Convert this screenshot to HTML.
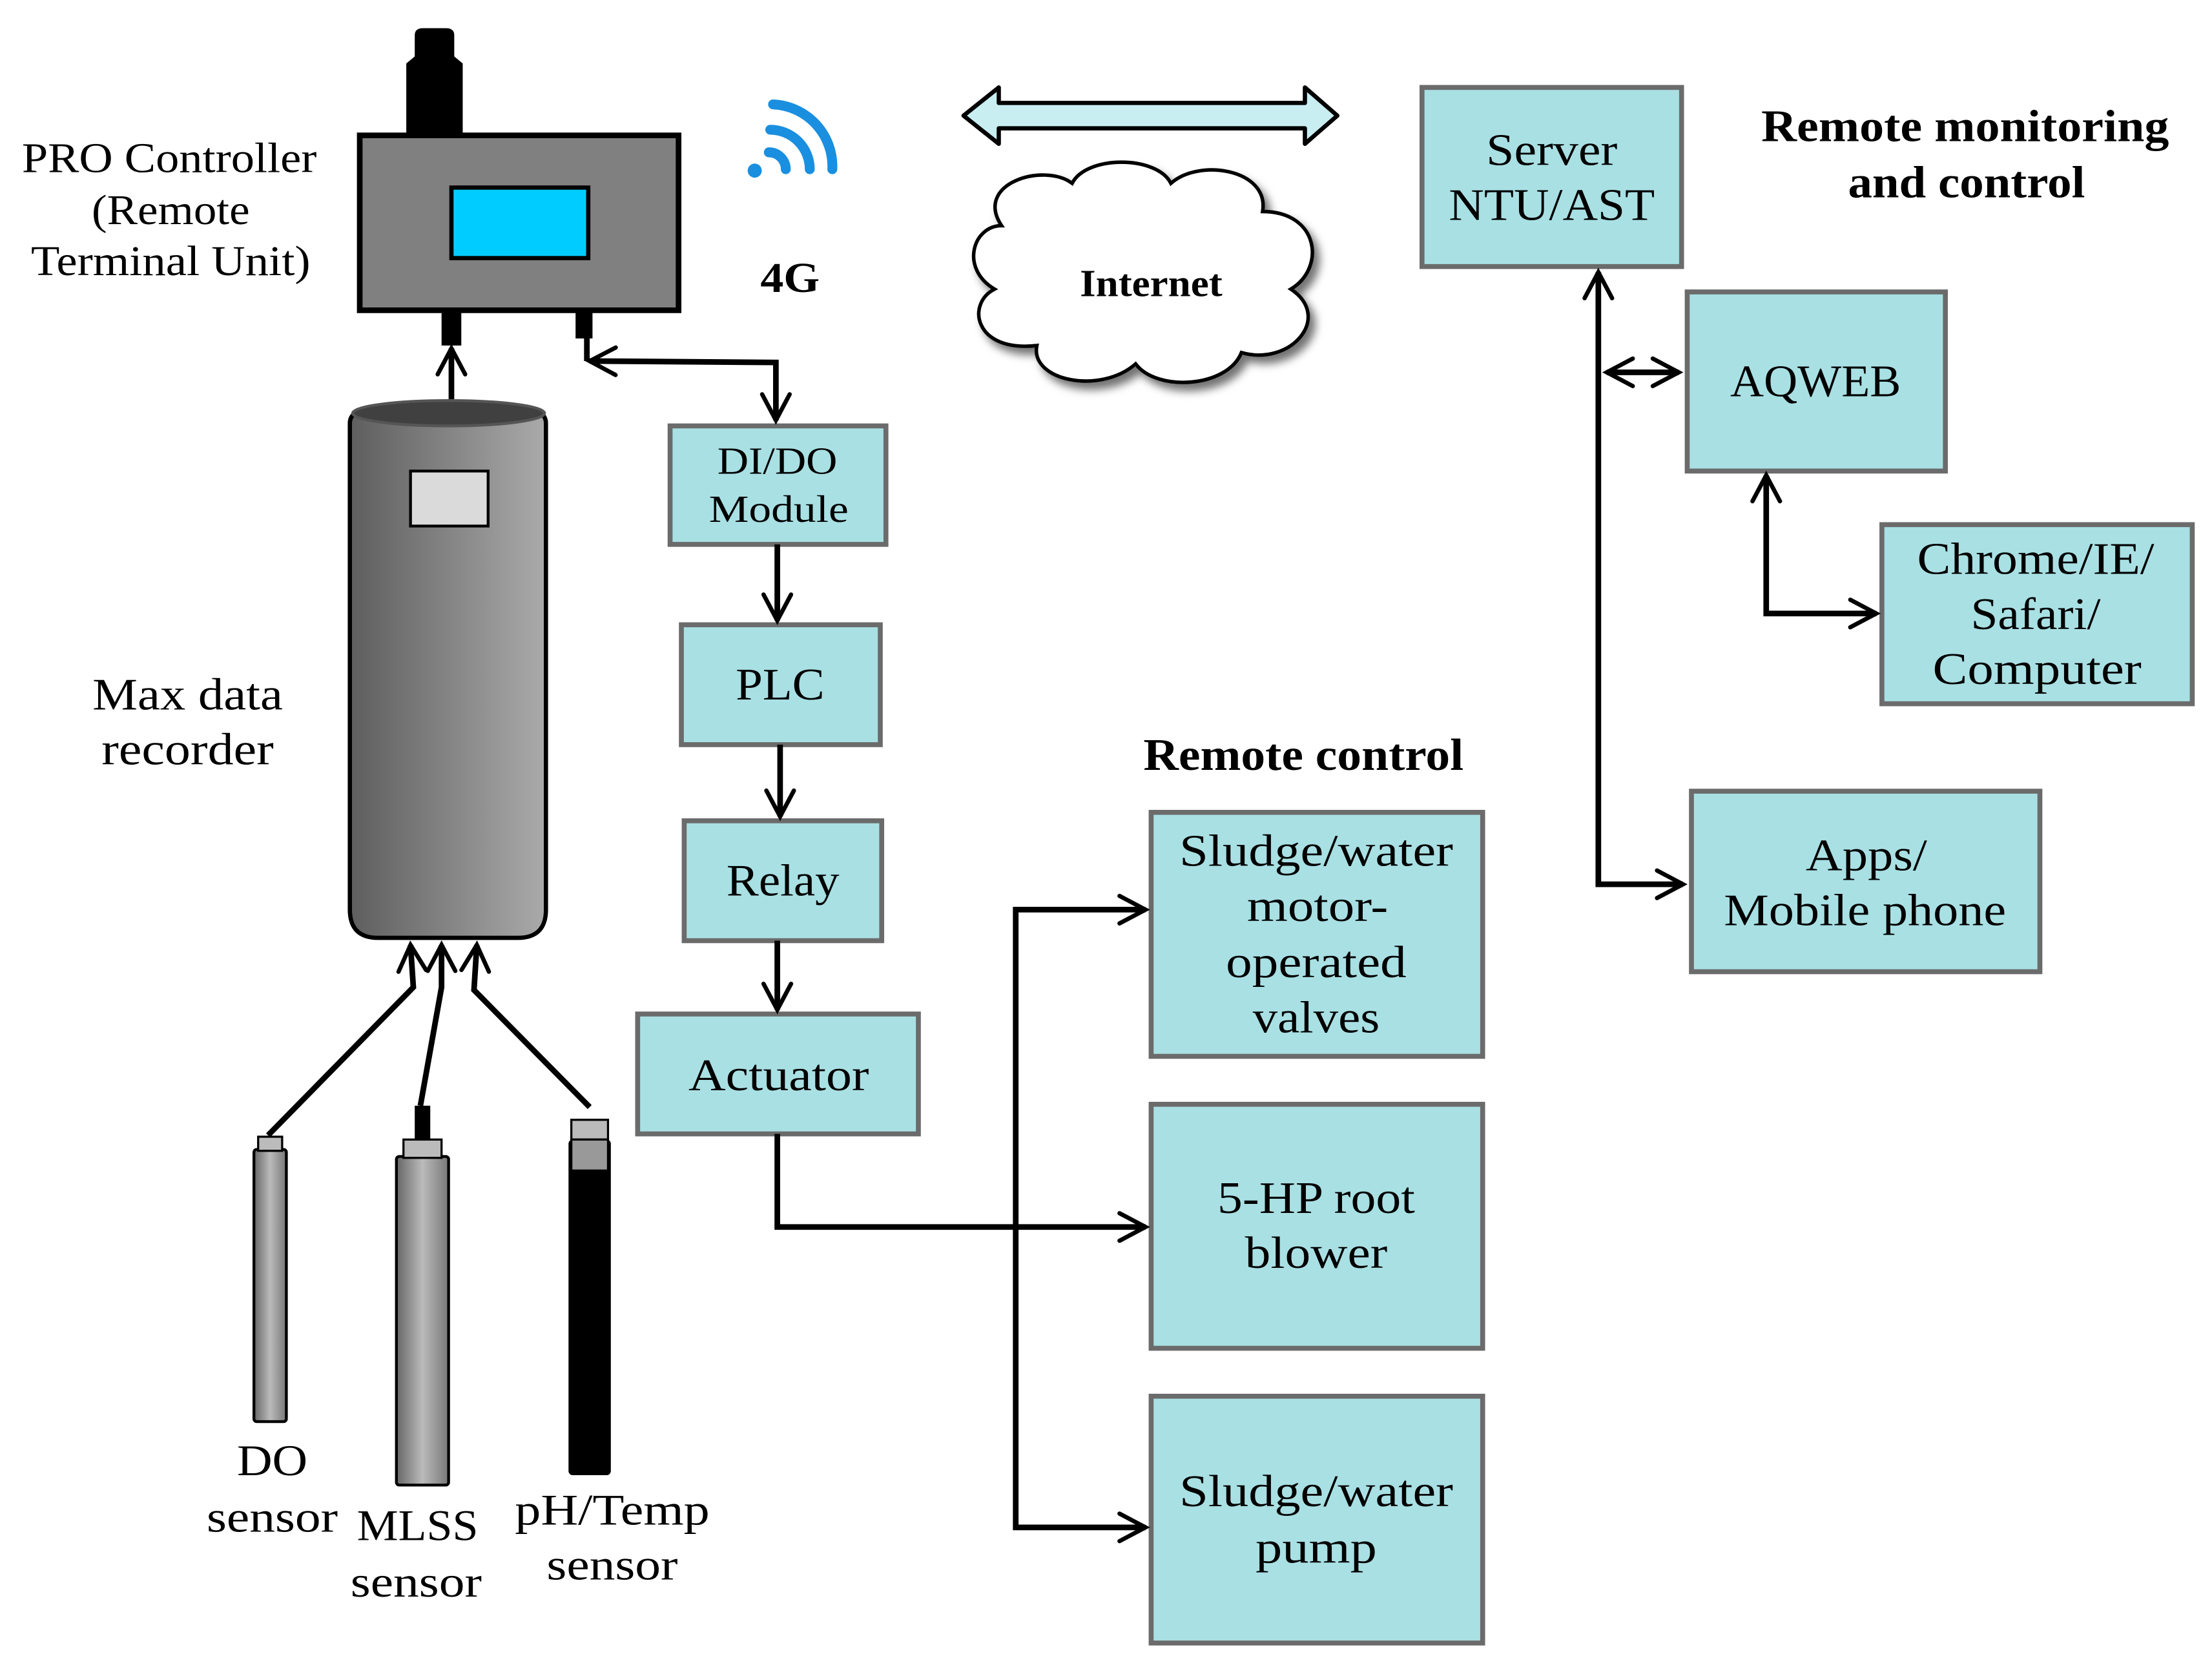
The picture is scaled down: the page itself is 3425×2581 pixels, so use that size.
<!DOCTYPE html>
<html><head><meta charset="utf-8"><style>
html,body{margin:0;padding:0;background:#fff;}
svg{display:block}
text{font-family:"Liberation Serif",serif;fill:#000;}
</style></head><body>
<svg width="3425" height="2581" viewBox="0 0 1568 1182" preserveAspectRatio="none" xmlns="http://www.w3.org/2000/svg">
<defs>
<marker id="ah" viewBox="0 0 12 12" refX="10" refY="6" markerWidth="6.5" markerHeight="6.5" orient="auto-start-reverse" markerUnits="strokeWidth"><path d="M1.5,1.5 L10,6 L1.5,10.5" fill="none" stroke="#000" stroke-width="1.4" stroke-linecap="round"/></marker>
<linearGradient id="cyl" x1="0" x2="1"><stop offset="0" stop-color="#5e5e5e"/><stop offset="1" stop-color="#aaaaaa"/></linearGradient>
<linearGradient id="sen" x1="0" x2="1"><stop offset="0" stop-color="#666"/><stop offset="0.5" stop-color="#bbb"/><stop offset="1" stop-color="#777"/></linearGradient>
<filter id="sh"><feDropShadow dx="4" dy="5" stdDeviation="3" flood-color="#000" flood-opacity="0.55"/></filter>
</defs>
<g stroke="#6b6b6b" stroke-width="3.5" fill="#a9e0e4">
<rect x="1008" y="62" width="184" height="127"/>
<rect x="1196" y="207" width="183" height="127"/>
<rect x="1334" y="372" width="220" height="127"/>
<rect x="1199" y="561" width="247" height="128"/>
<rect x="475" y="302" width="153" height="84"/>
<rect x="483" y="443" width="141" height="85"/>
<rect x="485" y="582" width="140" height="85"/>
<rect x="452" y="719" width="199" height="85"/>
<rect x="816" y="576" width="235" height="173"/>
<rect x="816" y="783" width="235" height="173"/>
<rect x="816" y="990" width="235" height="175"/>
</g>
<path d="M288,95 V45 L294,40 V25 Q294,20 300,20 H316 Q322,20 322,25 V40 L328,45 V95 Z" fill="#000"/>
<rect x="255" y="96" width="226" height="124" fill="#808080" stroke="#000" stroke-width="4"/>
<rect x="320" y="133" width="97" height="50" fill="#00ccff" stroke="#000" stroke-width="3"/>
<rect x="313" y="220" width="14" height="25" fill="#000"/>
<rect x="408" y="220" width="12" height="20" fill="#000"/>
<g fill="none" stroke="#1a8fe0" stroke-width="7" stroke-linecap="round">
<path d="M545,108 A12,12 0 0 1 557,120"/>
<path d="M546,92 A28,28 0 0 1 574,120"/>
<path d="M548,74 A44,44 0 0 1 590,120"/>
</g>
<circle cx="535" cy="121" r="5" fill="#1a8fe0"/>
<path d="M683,82 L708,62 V73 H925 V62 L948,82 L925,102 V91 H708 V102 Z" fill="#c8eef2" stroke="#000" stroke-width="3" stroke-linejoin="round"/>
<path filter="url(#sh)" d="M710,160 C690,130 740,115 760,130 C770,110 820,110 830,130 C850,112 900,120 895,150 C935,150 940,190 915,205 C945,225 915,260 880,250 C870,275 820,278 805,258 C780,280 730,270 735,245 C690,250 685,215 705,205 C680,190 690,160 710,160 Z" fill="#fff" stroke="#000" stroke-width="2.5"/>
<path d="M248,300 Q248,292 260,290 H375 Q387,292 387,300 V645 Q387,665 367,665 H268 Q248,665 248,645 Z" fill="url(#cyl)" stroke="#000" stroke-width="3"/>
<ellipse cx="318" cy="293" rx="68" ry="9" fill="#404040" stroke="#555" stroke-width="2"/>
<rect x="291" y="334" width="55" height="39" fill="#dadada" stroke="#000" stroke-width="2"/>
<rect x="180" y="815" width="23" height="193" rx="2" fill="url(#sen)" stroke="#000" stroke-width="2"/>
<rect x="183" y="806" width="17" height="10" fill="#bbb" stroke="#000" stroke-width="1.5"/>
<rect x="281" y="820" width="37" height="233" rx="2" fill="url(#sen)" stroke="#000" stroke-width="2"/>
<rect x="286" y="808" width="27" height="13" fill="#bbb" stroke="#000" stroke-width="1.5"/>
<rect x="294" y="784" width="11" height="24" fill="#000"/>
<rect x="403" y="808" width="30" height="238" rx="3" fill="#000"/>
<rect x="405" y="794" width="26" height="14" fill="#bbb" stroke="#000" stroke-width="1.5"/>
<rect x="405" y="808" width="26" height="22" fill="#999" stroke="#000" stroke-width="1.5"/>
<g fill="none" stroke="#000" stroke-width="4" stroke-linejoin="miter">
<line x1="320" y1="283" x2="320" y2="247" marker-end="url(#ah)"/>
<line x1="416" y1="240" x2="416" y2="256"/>
<polyline points="418,256 550,257 550,298" marker-end="url(#ah)" marker-start="url(#ah)"/>
<line x1="551" y1="386" x2="551" y2="440" marker-end="url(#ah)"/>
<line x1="553" y1="528" x2="553" y2="579" marker-end="url(#ah)"/>
<line x1="551" y1="667" x2="551" y2="716" marker-end="url(#ah)"/>
<polyline points="551,804 551,870 812,870" marker-end="url(#ah)"/>
<polyline points="812,645 720,645 720,1083 812,1083" marker-end="url(#ah)" marker-start="url(#ah)"/>
<polyline points="1133,193 1133,627 1193,627" marker-end="url(#ah)" marker-start="url(#ah)"/>
<line x1="1139" y1="264" x2="1190" y2="264" marker-end="url(#ah)" marker-start="url(#ah)"/>
<polyline points="1252,337 1252,435 1330,435" marker-end="url(#ah)" marker-start="url(#ah)"/>
<polyline points="190,805 293,700 291,670" marker-end="url(#ah)"/>
<polyline points="298,784 313,700 313,670" marker-end="url(#ah)"/>
<polyline points="418,785 336,702 338,670" marker-end="url(#ah)"/>
</g>
<g font-size="30" text-anchor="middle">
<text lengthAdjust="spacingAndGlyphs" x="120" y="122" textLength="209">PRO Controller</text>
<text lengthAdjust="spacingAndGlyphs" x="121" y="159" textLength="112">(Remote</text>
<text lengthAdjust="spacingAndGlyphs" x="121" y="195" textLength="198">Terminal Unit)</text>
<text lengthAdjust="spacingAndGlyphs" x="560" y="207" font-weight="bold" textLength="42">4G</text>
<text lengthAdjust="spacingAndGlyphs" x="816" y="210" font-size="27" font-weight="bold" textLength="101">Internet</text>
<text lengthAdjust="spacingAndGlyphs" x="1100" y="117" font-size="32" textLength="93">Server</text>
<text lengthAdjust="spacingAndGlyphs" x="1100" y="156" font-size="32" textLength="146">NTU/AST</text>
<text lengthAdjust="spacingAndGlyphs" x="1393" y="100" font-size="32" font-weight="bold" textLength="289">Remote monitoring</text>
<text lengthAdjust="spacingAndGlyphs" x="1394" y="140" font-size="32" font-weight="bold" textLength="168">and control</text>
<text lengthAdjust="spacingAndGlyphs" x="1287" y="281" font-size="32" textLength="121">AQWEB</text>
<text lengthAdjust="spacingAndGlyphs" x="1443" y="407" font-size="32" textLength="168">Chrome/IE/</text>
<text lengthAdjust="spacingAndGlyphs" x="1443" y="446" font-size="32" textLength="92">Safari/</text>
<text lengthAdjust="spacingAndGlyphs" x="1444" y="485" font-size="32" textLength="148">Computer</text>
<text lengthAdjust="spacingAndGlyphs" x="1323" y="617" font-size="32" textLength="86">Apps/</text>
<text lengthAdjust="spacingAndGlyphs" x="1322" y="656" font-size="32" textLength="200">Mobile phone</text>
<text lengthAdjust="spacingAndGlyphs" x="551" y="336" font-size="27" textLength="85">DI/DO</text>
<text lengthAdjust="spacingAndGlyphs" x="552" y="370" font-size="27" textLength="99">Module</text>
<text lengthAdjust="spacingAndGlyphs" x="553" y="496" font-size="32" textLength="63">PLC</text>
<text lengthAdjust="spacingAndGlyphs" x="555" y="635" font-size="32" textLength="80">Relay</text>
<text lengthAdjust="spacingAndGlyphs" x="552" y="773" font-size="32" textLength="128">Actuator</text>
<text lengthAdjust="spacingAndGlyphs" x="924" y="546" font-size="32" font-weight="bold" textLength="227">Remote control</text>
<text lengthAdjust="spacingAndGlyphs" x="933" y="614" font-size="32" textLength="194">Sludge/water</text>
<text lengthAdjust="spacingAndGlyphs" x="934" y="653" font-size="32" textLength="100">motor-</text>
<text lengthAdjust="spacingAndGlyphs" x="933" y="693" font-size="32" textLength="128">operated</text>
<text lengthAdjust="spacingAndGlyphs" x="933" y="732" font-size="32" textLength="90">valves</text>
<text lengthAdjust="spacingAndGlyphs" x="933" y="860" font-size="32" textLength="140">5-HP root</text>
<text lengthAdjust="spacingAndGlyphs" x="933" y="899" font-size="32" textLength="101">blower</text>
<text lengthAdjust="spacingAndGlyphs" x="933" y="1068" font-size="32" textLength="194">Sludge/water</text>
<text lengthAdjust="spacingAndGlyphs" x="933" y="1108" font-size="32" textLength="86">pump</text>
<text lengthAdjust="spacingAndGlyphs" x="133" y="503" font-size="32" textLength="135">Max data</text>
<text lengthAdjust="spacingAndGlyphs" x="133" y="542" font-size="32" textLength="122">recorder</text>
<text lengthAdjust="spacingAndGlyphs" x="193" y="1046" font-size="31" textLength="50">DO</text>
<text lengthAdjust="spacingAndGlyphs" x="193" y="1086" font-size="31" textLength="93">sensor</text>
<text lengthAdjust="spacingAndGlyphs" x="296" y="1092" font-size="31" textLength="86">MLSS</text>
<text lengthAdjust="spacingAndGlyphs" x="295" y="1132" font-size="31" textLength="93">sensor</text>
<text lengthAdjust="spacingAndGlyphs" x="434" y="1081" font-size="31" textLength="138">pH/Temp</text>
<text lengthAdjust="spacingAndGlyphs" x="434" y="1120" font-size="31" textLength="93">sensor</text>
</g>
</svg>
</body></html>
